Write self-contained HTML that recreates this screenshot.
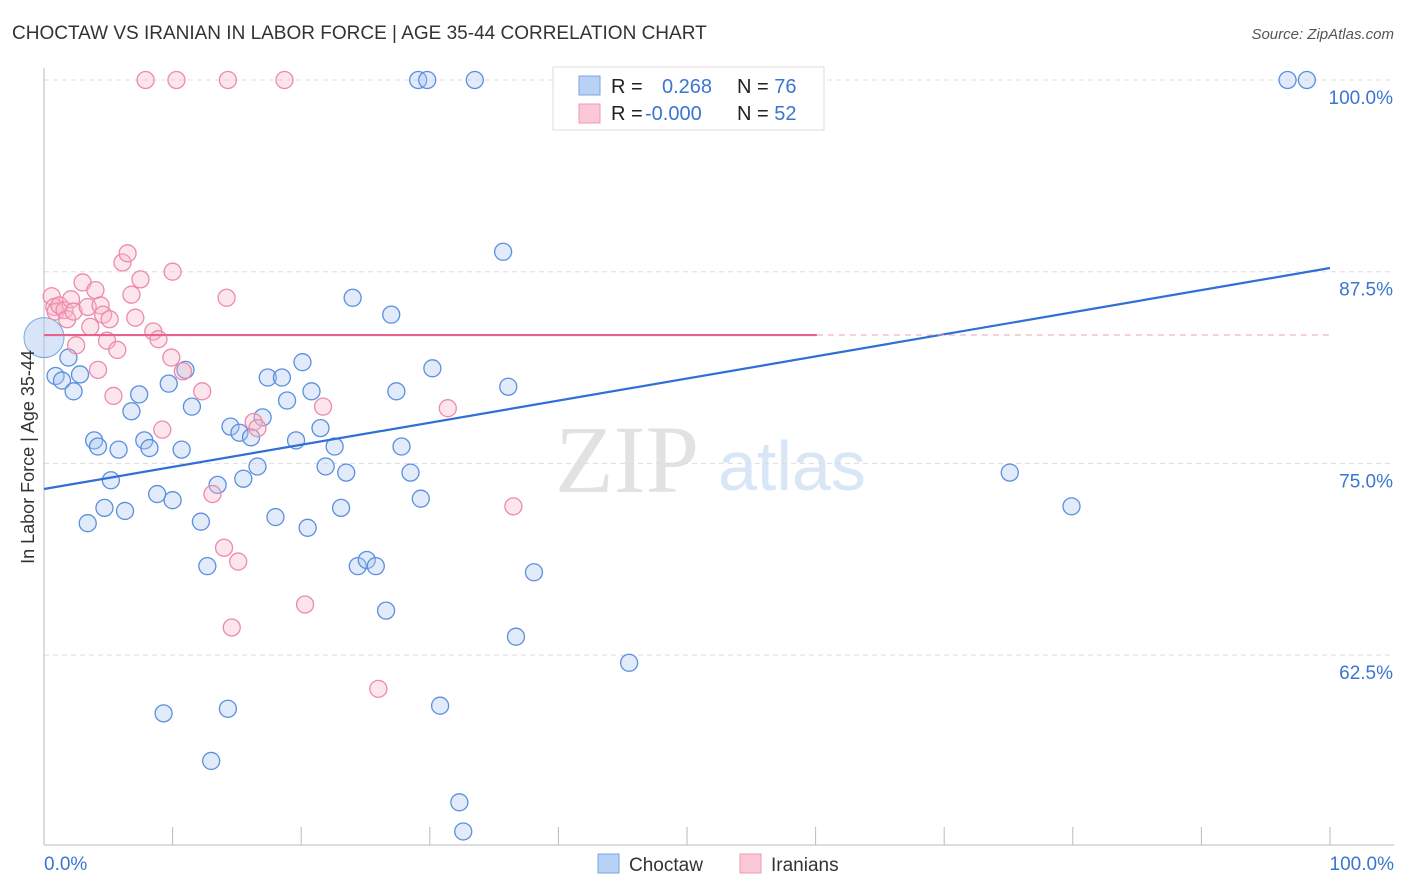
<!DOCTYPE html>
<html><head><meta charset="utf-8"><style>
body{margin:0;background:#fff;font-family:"Liberation Sans",sans-serif;}
svg{display:block}
</style></head><body>
<svg id="chart" width="1406" height="892">
<text x="12" y="39" font-size="19" fill="#333">CHOCTAW VS IRANIAN IN LABOR FORCE | AGE 35-44 CORRELATION CHART</text>
<text x="1394" y="39" font-size="15" fill="#555" font-style="italic" text-anchor="end">Source: ZipAtlas.com</text>
<text x="555" y="492" font-size="96" fill="#e2e2e2" font-family="Liberation Serif,serif">ZIP</text>
<text x="718" y="490" font-size="70" fill="#d9e6f6">atlas</text>
<g id="grid"></g><g id="axes"></g><g id="marks"></g>
<text transform="translate(34,457) rotate(-90)" font-size="18" fill="#333" text-anchor="middle">In Labor Force | Age 35-44</text>
<text x="44" y="870" font-size="19" fill="#3a76d0">0.0%</text>
<text x="1394" y="870" font-size="19" fill="#3a76d0" text-anchor="end">100.0%</text>
<g>
<rect x="553" y="67" width="271" height="63" fill="#fff" stroke="#ddd"/>
<rect x="579" y="76" width="21" height="19" fill="#b8d2f5" stroke="#7aa6e0"/>
<rect x="579" y="104" width="21" height="19" fill="#fbc8d6" stroke="#ee9ab4"/>
<text x="611" y="93" font-size="20" fill="#222">R =  <tspan fill="#3a76d0" x="662">0.268</tspan><tspan x="737" fill="#222">N = </tspan><tspan fill="#3a76d0">76</tspan></text>
<text x="611" y="120" font-size="20" fill="#222">R = <tspan fill="#3a76d0" x="645">-0.000</tspan><tspan x="737" fill="#222">N = </tspan><tspan fill="#3a76d0">52</tspan></text>
</g>
<g>
<rect x="598" y="854" width="21" height="19" fill="#b8d2f5" stroke="#7aa6e0"/>
<text x="629" y="871" font-size="19" fill="#333">Choctaw</text>
<rect x="740" y="854" width="21" height="19" fill="#fbc8d6" stroke="#ee9ab4"/>
<text x="771" y="871" font-size="19" fill="#333">Iranians</text>
</g>
</svg>
<script>
const yTicks=[100,87.5,75,62.5];
const yTickLabels=["100.0%","87.5%","75.0%","62.5%"];
const xTicks=[0,10,20,30,40,50,60,70,80,90,100];
const blueX=[0.9,1.9,1.4,2.8,2.3,3.9,4.2,5.8,3.4,4.7,5.2,6.3,6.8,7.4,7.8,8.2,8.8,9.7,10.0,10.7,11.0,11.5,12.2,12.7,9.3,13.0,13.5,14.3,14.5,15.2,15.5,16.1,16.6,17.0,17.4,18.5,18.0,18.9,19.6,20.1,20.5,20.8,21.5,21.9,22.6,23.1,23.5,24.0,24.4,25.1,25.8,26.6,27.0,27.4,27.8,28.5,29.3,30.2,30.8,32.3,32.6,29.1,29.8,33.5,35.7,36.1,36.7,38.1,45.5,75.1,79.9,96.7,98.2,43.5,46.7];
const blueY=[80.7,81.9,80.4,80.8,79.7,76.5,76.1,75.9,71.1,72.1,73.9,71.9,78.4,79.5,76.5,76.0,73.0,80.2,72.6,75.9,81.1,78.7,71.2,68.3,58.7,55.6,73.6,59.0,77.4,77.0,74.0,76.7,74.8,78.0,80.6,80.6,71.5,79.1,76.5,81.6,70.8,79.7,77.3,74.8,76.1,72.1,74.4,85.8,68.3,68.7,68.3,65.4,84.7,79.7,76.1,74.4,72.7,81.2,59.2,52.9,51.0,100,100,100,88.8,80.0,63.7,67.9,62.0,74.4,72.2,100,100,100,100];
const blueBig=[0,83.2];
const pinkX=[0.6,0.8,0.9,1.2,1.6,1.8,2.1,2.3,2.5,3.0,3.4,3.6,4.0,4.2,4.4,4.6,4.9,5.1,5.4,5.7,6.1,6.5,6.8,7.1,7.5,8.5,8.9,9.2,9.9,10.0,10.8,12.3,13.1,14.0,14.2,14.6,15.1,16.3,16.6,18.7,20.3,14.3,10.3,7.9,21.7,26.0,31.4,36.5,52.3,49.6];
const pinkY=[85.9,85.2,84.9,85.3,85.0,84.4,85.7,84.9,82.7,86.8,85.2,83.9,86.3,81.1,85.3,84.7,83.0,84.4,79.4,82.4,88.1,88.7,86.0,84.5,87.0,83.6,83.1,77.2,81.9,87.5,81.0,79.7,73.0,69.5,85.8,64.3,68.6,77.7,77.3,100,65.8,100,100,100,78.7,60.3,78.6,72.2,100,100];
const blueTrend=[73.33,87.74];
const pinkTrend=83.37;
const NS='http://www.w3.org/2000/svg';
const X=v=>44+v*12.86;
const Y=v=>80+(100-v)*15.336;
function mk(p,t,a){const e=document.createElementNS(NS,t);for(const k in a)e.setAttribute(k,a[k]);p.appendChild(e);return e;}
const grid=document.getElementById('grid'),axes=document.getElementById('axes'),marks=document.getElementById('marks');
yTicks.forEach((t,i)=>{
 const l=mk(grid,'line',{x1:44,x2:1394,y1:Y(t),y2:Y(t),stroke:'#ddd','stroke-dasharray':'5,4'});
 
 
 const tx=mk(grid,'text',{x:1393,y:Y(t)+24,'font-size':19,fill:'#3a76d0','text-anchor':'end'});
 tx.textContent=yTickLabels[i];
 
 
});
const ax=mk(axes,'line',{x1:44,x2:44,y1:68,y2:845,stroke:'#bbb'});


const bx=mk(axes,'line',{x1:44,x2:1394,y1:845,y2:845,stroke:'#bbb'});


xTicks.forEach(t=>{
 const l=mk(axes,'line',{x1:X(t),x2:X(t),y1:827,y2:845,stroke:'#bbb'});
 
 
});
function dot(x,y,r,fill,stroke,name){
 const c=mk(marks,'circle',{cx:X(x),cy:Y(y),r:r,fill:fill,'fill-opacity':0.35,stroke:stroke,'stroke-width':1.3});
 
 
}
const bb=mk(marks,'circle',{cx:X(blueBig[0]),cy:Y(blueBig[1]),r:20,fill:'#a9c6ef','fill-opacity':0.45,stroke:'#7aa6e0'});


blueX.forEach((x,i)=>dot(x,blueY[i],8.5,'#a9c6ef','#5b8fe0','choctaw-point'));
pinkX.forEach((x,i)=>dot(x,pinkY[i],8.5,'#f7b6c9','#ee8aab','iranians-point'));
const bt=mk(marks,'line',{x1:X(0),y1:Y(blueTrend[0]),x2:X(100),y2:Y(blueTrend[1]),stroke:'#2f6fd6','stroke-width':2.2});


const pt=mk(marks,'line',{x1:X(0),y1:Y(pinkTrend),x2:X(60.1),y2:Y(pinkTrend),stroke:'#e8628c','stroke-width':2.2});


const pd=mk(marks,'line',{x1:X(60.1),y1:Y(pinkTrend),x2:X(100),y2:Y(pinkTrend),stroke:'#e8a0b6','stroke-width':1,'stroke-dasharray':'6,5'});


</script>
</body></html>
